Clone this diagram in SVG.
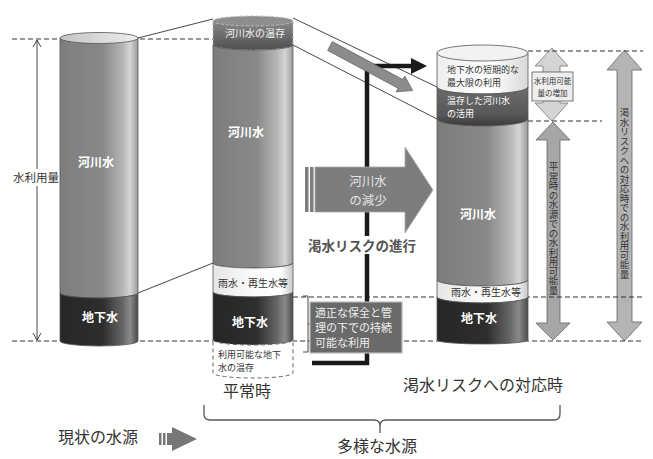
<svg xmlns="http://www.w3.org/2000/svg" width="653" height="459" viewBox="0 0 653 459">
<style>
.dash{stroke:#333;stroke-width:1.2;stroke-dasharray:5 3;fill:none}
.thin{stroke:#333;stroke-width:0.9;fill:none}
.cyl{stroke:#555;stroke-width:0.8}
text{font-family:"Noto Sans CJK JP","Noto Sans CJK SC",sans-serif}
.wl{fill:#fff;font-weight:bold;font-size:12px;text-anchor:middle}
.sm{font-size:9px;fill:#333}
.big{font-size:16px;fill:#333;text-anchor:middle}
.vt{font-size:9.5px;fill:#333;writing-mode:vertical-rl}
</style>
<defs>
<linearGradient id="gRiver" x1="0" x2="1" y1="0" y2="0">
<stop offset="0" stop-color="#7d7d7d"/><stop offset="0.55" stop-color="#898989"/><stop offset="0.8" stop-color="#b5b5b5"/><stop offset="0.9" stop-color="#d5d5d5"/><stop offset="1" stop-color="#9a9a9a"/>
</linearGradient>
<linearGradient id="gGround" x1="0" x2="1" y1="0" y2="0">
<stop offset="0" stop-color="#262626"/><stop offset="0.55" stop-color="#2e2e2e"/><stop offset="0.8" stop-color="#666"/><stop offset="0.9" stop-color="#8a8a8a"/><stop offset="1" stop-color="#4a4a4a"/>
</linearGradient>
<linearGradient id="gRain" x1="0" x2="1" y1="0" y2="0">
<stop offset="0" stop-color="#e6e6e6"/><stop offset="0.5" stop-color="#fafafa"/><stop offset="0.85" stop-color="#fff"/><stop offset="1" stop-color="#c8c8c8"/>
</linearGradient>
<linearGradient id="gTop" x1="0" x2="1" y1="0" y2="0">
<stop offset="0" stop-color="#c4c4c4"/><stop offset="1" stop-color="#eee"/>
</linearGradient>
<linearGradient id="gStore" x1="0" x2="0" y1="0" y2="1">
<stop offset="0" stop-color="#8a8a8a"/><stop offset="1" stop-color="#4e4e4e"/>
</linearGradient>
<linearGradient id="gStore2" x1="0" x2="0" y1="0" y2="1">
<stop offset="0" stop-color="#6c6c6c"/><stop offset="0.7" stop-color="#585858"/><stop offset="1" stop-color="#3a3a3a"/>
</linearGradient>
<linearGradient id="gWhite" x1="0" x2="1" y1="0" y2="0">
<stop offset="0" stop-color="#eee"/><stop offset="0.6" stop-color="#fff"/><stop offset="1" stop-color="#d8d8d8"/>
</linearGradient>
</defs>
<rect width="653" height="459" fill="#fff"/>

<!-- right-side dimension arrows -->
<g id="arrow-increase">
<polygon points="552,48 568,66 560,66 560,103 568,103 552,121 535,103 543,103 543,66 535,66" fill="#d4d4d4" stroke="#777" stroke-width="0.8"/>
<rect x="532" y="72" width="41" height="29" fill="#eee" stroke="#555" stroke-width="0.8"/>
<text x="552.5" y="84" font-size="7.5" fill="#333" text-anchor="middle">水利用可能</text>
<text x="552.5" y="96" font-size="7.5" fill="#333" text-anchor="middle">量の増加</text>
</g>
<g id="arrow-normal">
<polygon points="553,122 570,140 560,140 560,323 570,323 553,340 536,323 547,323 547,140 536,140" fill="#a6a6a6" stroke="#666" stroke-width="0.8"/>
<text x="553.5" y="162" class="vt">平常時の水源での水利用可能量</text>
</g>
<g id="arrow-drought">
<polygon points="624.5,50 642,70 632,70 632,322 642,322 624.5,341 607,322 617,322 617,70 607,70" fill="#b4b4b4" stroke="#666" stroke-width="0.8"/>
<text x="624.5" y="108" class="vt">渇水リスクへの対応時での水利用可能量</text>
</g>

<!-- dashed reference lines and perspective lines -->
<g id="connectors">
<line class="dash" x1="12" y1="39" x2="213" y2="39"/>
<line class="dash" x1="12" y1="341" x2="643" y2="341"/>
<line class="dash" x1="293" y1="297" x2="643" y2="297"/>
<line class="dash" x1="528" y1="51" x2="643" y2="51"/>
<line class="dash" x1="528" y1="121" x2="602" y2="121"/>
<line class="thin" x1="138" y1="38" x2="213" y2="19"/>
<line class="thin" x1="138" y1="293" x2="213" y2="263"/>
<line class="thin" x1="293" y1="18" x2="437" y2="87"/>
<line class="thin" x1="293" y1="45" x2="437" y2="119"/>
<line x1="37" y1="40" x2="37" y2="340" stroke="#333" stroke-width="0.9"/>
<polyline points="33,47 37,40 41,47" class="thin"/>
<polyline points="33,333 37,340 41,333" class="thin"/>
<line x1="367" y1="66" x2="367" y2="365" stroke="#1a1a1a" stroke-width="4.5"/>
<line x1="312" y1="363" x2="369" y2="363" stroke="#1a1a1a" stroke-width="4.5"/>
<line x1="365" y1="66" x2="413" y2="66" stroke="#1a1a1a" stroke-width="4.5"/>
<polygon points="411,58 427,66 411,74" fill="#1a1a1a"/>
<path d="M303,296 L308,296 L308,352 L303,352 M308,324 L313,324" class="thin"/>
<path d="M204,405 L204,414 Q204,420 210,420 L374,420 Q380,420 380,426 L380,433 M380,426 Q380,420 386,420 L554,420 Q560,420 560,414 L560,405" stroke="#555" stroke-width="1.3" fill="none"/>
</g>

<g id="label-usage">
<rect x="12" y="169" width="48" height="17" fill="#fff"/>
<text x="36" y="182" font-size="11.5" fill="#333" text-anchor="middle">水利用量</text>
</g>

<g id="cyl-left">
<path d="M60,38 L138,38 L138,293 A39,5 0 0 1 60,293 Z" fill="url(#gRiver)" class="cyl"/>
<path d="M60,293 A39,5 0 0 0 138,293 L138,341 A39,5 0 0 1 60,341 Z" fill="url(#gGround)" class="cyl"/>
<ellipse cx="99" cy="38" rx="39" ry="5.5" fill="url(#gTop)" class="cyl"/>
<text x="96" y="167" class="wl">河川水</text>
<text x="100" y="322" class="wl">地下水</text>
</g>

<g id="cyl-mid">
<path d="M213,21 L293,21 L293,45 A40,5 0 0 1 213,45 Z" fill="url(#gStore)" stroke="#bbb" stroke-width="1" stroke-dasharray="3 2"/>
<ellipse cx="253" cy="21" rx="40" ry="5" fill="#8e8e8e" stroke="#bbb" stroke-width="1" stroke-dasharray="3 2"/>
<path d="M213,45 A40,5 0 0 0 293,45 L293,263 A40,5 0 0 1 213,263 Z" fill="url(#gRiver)" class="cyl"/>
<path d="M213,263 A40,5 0 0 0 293,263 L293,292 A40,5 0 0 1 213,292 Z" fill="url(#gRain)" class="cyl"/>
<path d="M213,292 A40,5 0 0 0 293,292 L293,340 A40,5 0 0 1 213,340 Z" fill="url(#gGround)" class="cyl"/>
<path d="M213,340 A40,5 0 0 0 293,340 L293,373 A40,5 0 0 1 213,373 Z" fill="#fff" stroke="#666" stroke-width="1" stroke-dasharray="4 3"/>
<text x="255" y="37" font-size="10" fill="#f2f2f2" text-anchor="middle">河川水の温存</text>
<text x="246" y="137" class="wl">河川水</text>
<text x="253" y="287" font-size="10" fill="#333" text-anchor="middle">雨水・再生水等</text>
<text x="250" y="327" class="wl">地下水</text>
<text x="218" y="358" class="sm">利用可能な地下</text>
<text x="218" y="371" class="sm">水の温存</text>
</g>

<g id="cyl-right">
<path d="M437,53 L528,53 L528,87 A45.5,7 0 0 1 437,87 Z" fill="url(#gWhite)" class="cyl"/>
<ellipse cx="482.5" cy="53" rx="45.5" ry="8" fill="#f2f2f2" class="cyl"/>
<path d="M437,87 A45.5,7 0 0 0 528,87 L528,119 A45.5,7 0 0 1 437,119 Z" fill="url(#gStore2)" class="cyl"/>
<path d="M437,119 A45.5,7 0 0 0 528,119 L528,280 A45.5,6 0 0 1 437,280 Z" fill="url(#gRiver)" class="cyl"/>
<path d="M437,280 A45.5,6 0 0 0 528,280 L528,297 A45.5,6 0 0 1 437,297 Z" fill="url(#gRain)" class="cyl"/>
<path d="M437,297 A45.5,6 0 0 0 528,297 L528,340 A45.5,4 0 0 1 437,340 Z" fill="url(#gGround)" class="cyl"/>
<text x="447" y="73" class="sm">地下水の短期的な</text>
<text x="447" y="86" class="sm">最大限の利用</text>
<text x="447" y="104" font-size="9" fill="#fff">温存した河川水</text>
<text x="447" y="117" font-size="9" fill="#fff">の活用</text>
<text x="478" y="219" class="wl">河川水</text>
<text x="486" y="296" font-size="10" fill="#333" text-anchor="middle">雨水・再生水等</text>
<text x="479" y="323" class="wl">地下水</text>
</g>

<g id="arrow-diag" transform="translate(330,46) rotate(28.3)">
<polygon points="0,-5 80,-5 80,-9 94,0 80,9 80,5 0,5" fill="#8c8c8c" stroke="#555" stroke-width="0.6"/>
</g>

<g id="arrow-decrease">
<rect x="305" y="167" width="3.5" height="45" fill="#7d7d7d"/>
<rect x="310" y="167" width="3.5" height="45" fill="#7d7d7d"/>
<polygon points="315,167 405,167 405,147 433,190 405,233 405,212 315,212" fill="#7d7d7d" stroke="#aaa" stroke-width="0.8"/>
<text x="368" y="186" font-size="12.5" fill="#e4e4e4" text-anchor="middle">河川水</text>
<text x="368" y="205" font-size="12.5" fill="#e4e4e4" text-anchor="middle">の減少</text>
</g>

<g id="label-progress">
<rect x="306" y="236" width="112" height="18" fill="#fff"/>
<text x="362" y="251" font-size="13.5" font-weight="bold" fill="#555" text-anchor="middle">渇水リスクの進行</text>
</g>

<g id="box-sustain">
<rect x="310" y="302" width="92" height="51" fill="#6a6a6a" stroke="#bbb" stroke-width="1.2"/>
<text x="315" y="317" font-size="11" fill="#eee">適正な保全と管</text>
<text x="315" y="332" font-size="11" fill="#eee">理の下での持続</text>
<text x="315" y="347" font-size="11" fill="#eee">可能な利用</text>
</g>

<g id="labels-bottom">
<text x="247" y="397" class="big">平常時</text>
<text x="483" y="391" class="big">渇水リスクへの対応時</text>
<text x="377" y="452" class="big">多様な水源</text>
<text x="98" y="443" class="big">現状の水源</text>
</g>
<g id="arrow-current">
<rect x="159" y="433" width="2.5" height="12" fill="#777"/>
<rect x="163" y="433" width="2.5" height="12" fill="#777"/>
<polygon points="167,433 172,433 172,427 197,439 172,451 172,445 167,445" fill="#777"/>
</g>
</svg>
